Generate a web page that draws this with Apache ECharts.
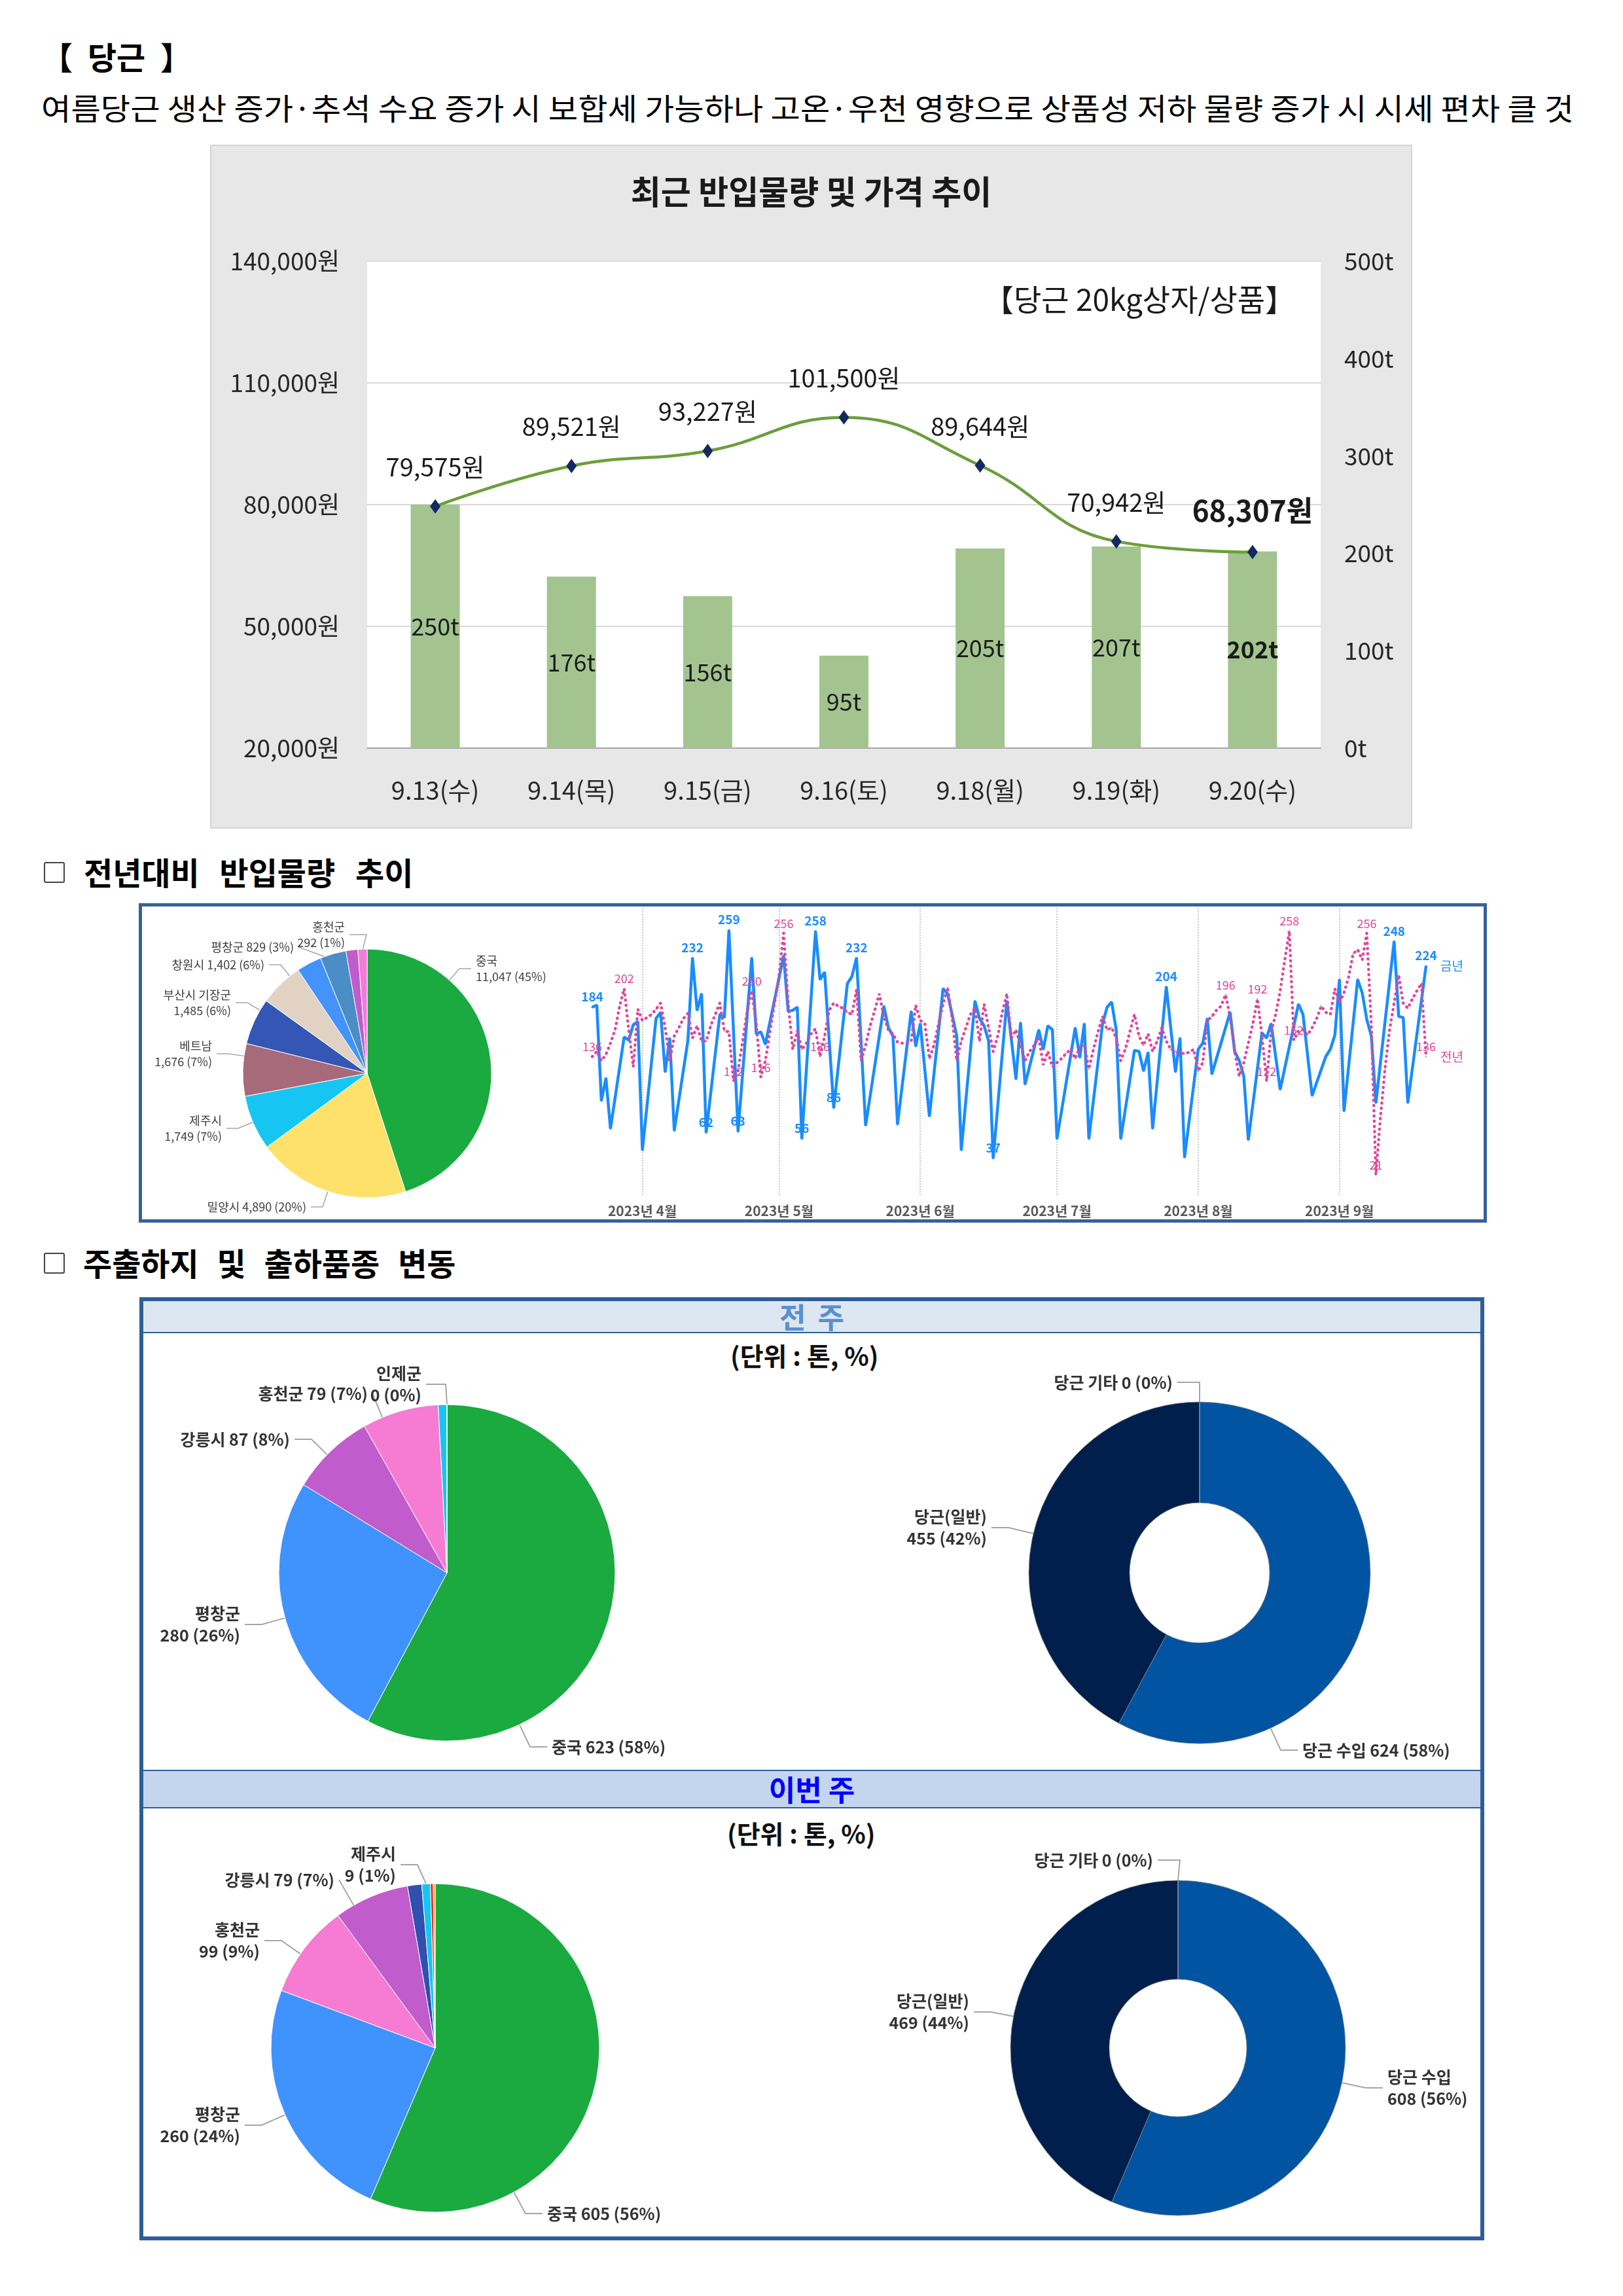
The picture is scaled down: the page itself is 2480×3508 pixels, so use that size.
<!DOCTYPE html>
<html><head><meta charset="utf-8">
<script src="https://cdn.jsdelivr.net/npm/echarts@6/dist/echarts.min.js"></script>
<style>
html,body{margin:0;padding:0;background:#fff;}
body{width:2480px;height:3508px;position:relative;overflow:hidden;font-family:"Noto Sans CJK KR","Noto Sans",sans-serif;color:#000;}
.abs{position:absolute;}
.hdr{font-size:48px;font-weight:bold;line-height:58px;white-space:pre;}
.chk{width:28px;height:28px;border:2px solid #444;border-radius:3px;}
.unit{font-size:39px;font-weight:bold;line-height:48px;white-space:pre;color:#111;}
</style></head><body>

<div class="abs" id="ttl" style="left:63px;top:54px;font-size:48px;font-weight:bold;line-height:62px;white-space:pre;word-spacing:12px">【 당근 】</div>
<div class="abs" id="sub" style="left:63px;top:133px;font-size:46px;line-height:60px;white-space:nowrap;transform-origin:0 50%">여름당근 생산 증가·추석 수요 증가 시 보합세 가능하나 고온·우천 영향으로 상품성 저하 물량 증가 시 시세 편차 클 것</div>

<div class="abs" style="left:321px;top:221px;width:1837px;height:1045px;box-sizing:border-box;border:2px solid #d4d4d4;background:#e7e7e7"></div>
<div class="abs" id="c1" style="left:323px;top:223px;width:1833px;height:1041px"></div>

<div class="abs chk" style="left:67px;top:1317px"></div>
<div class="abs hdr" style="left:128px;top:1302px;word-spacing:20px">전년대비 반입물량 추이</div>
<div class="abs" style="left:212px;top:1380px;width:2060px;height:488px;box-sizing:border-box;border:5px solid #35619b"></div>
<div class="abs" id="c2" style="left:217px;top:1385px;width:2050px;height:478px"></div>

<div class="abs chk" style="left:67px;top:1914px"></div>
<div class="abs hdr" style="left:127px;top:1899px;word-spacing:17px">주출하지 및 출하품종 변동</div>
<div class="abs" style="left:213px;top:1982px;width:2055px;height:1441px;box-sizing:border-box;border:6px solid #2e5e96"></div>
<div class="abs" style="left:219px;top:1988px;width:2043px;height:47px;background:#dde7f2;border-bottom:2px solid #2e5e96;text-align:center;font-size:44px;font-weight:bold;line-height:47px;color:#5a8fd2;white-space:pre;word-spacing:8px">전 주</div>
<div class="abs" style="left:219px;top:2704px;width:2043px;height:55px;background:#c3d6ed;border-top:2px solid #2e5e96;border-bottom:2px solid #2e5e96;text-align:center;font-size:44px;font-weight:bold;line-height:55px;color:#0000ff;white-space:pre">이번 주</div>
<div class="abs unit" style="left:1116px;top:2046px">(단위 : 톤, %)</div>
<div class="abs unit" style="left:1111px;top:2776px">(단위 : 톤, %)</div>
<div class="abs" id="c3" style="left:219px;top:2037px;width:2043px;height:667px"></div>
<div class="abs" id="c4" style="left:219px;top:2763px;width:2043px;height:654px"></div>

<script>
// ---------------- data ----------------
const mainDays = ['9.13(수)','9.14(목)','9.15(금)','9.16(토)','9.18(월)','9.19(화)','9.20(수)'];
const mainPrice = [79575, 89521, 93227, 101500, 89644, 70942, 68307];
const mainVolume = [250, 176, 156, 95, 205, 207, 202];

const originNames = ['중국','밀양시','제주시','베트남','부산시 기장군','창원시','(기타1)','평창군','(기타2)','홍천군'];
const originValues = [11047, 4890, 1749, 1676, 1485, 1402, 800, 829, 380, 292];

const thisYear = [
['2023-03-21',184],['2023-03-22',186],['2023-03-23',93],['2023-03-24',115],['2023-03-25',66],
['2023-03-28',155],['2023-03-29',152],['2023-03-30',167],['2023-03-31',170],['2023-04-01',45],
['2023-04-04',173],['2023-04-05',179],['2023-04-06',121],['2023-04-07',154],['2023-04-08',64],
['2023-04-11',152],['2023-04-12',232],['2023-04-13',181],['2023-04-14',197],['2023-04-15',62],
['2023-04-18',177],['2023-04-19',174],['2023-04-20',259],['2023-04-22',63],
['2023-04-25',232],['2023-04-26',158],['2023-04-27',160],['2023-04-28',148],
['2023-05-02',234],['2023-05-03',180],['2023-05-04',181],['2023-05-05',184],['2023-05-06',56],
['2023-05-09',258],['2023-05-10',211],['2023-05-11',218],['2023-05-13',86],
['2023-05-16',207],['2023-05-17',214],['2023-05-18',232],['2023-05-20',69],
['2023-05-24',185],['2023-05-25',164],['2023-05-26',156],['2023-05-27',70],
['2023-05-30',180],['2023-05-31',146],['2023-06-01',168],['2023-06-03',78],
['2023-06-06',202],['2023-06-07',197],['2023-06-09',156],['2023-06-10',45],
['2023-06-13',190],['2023-06-14',173],['2023-06-15',166],['2023-06-16',151],['2023-06-17',37],
['2023-06-20',190],['2023-06-22',114],['2023-06-23',169],['2023-06-24',109],
['2023-06-27',162],['2023-06-28',143],['2023-06-29',166],['2023-06-30',162],['2023-07-01',56],
['2023-07-05',164],['2023-07-06',135],['2023-07-07',168],['2023-07-08',56],
['2023-07-11',168],['2023-07-12',184],['2023-07-13',189],['2023-07-14',162],['2023-07-15',56],
['2023-07-18',142],['2023-07-19',141],['2023-07-20',122],['2023-07-21',140],['2023-07-22',66],
['2023-07-25',204],['2023-07-27',121],['2023-07-28',154],['2023-07-29',38],
['2023-08-01',143],['2023-08-02',149],['2023-08-03',173],['2023-08-04',119],
['2023-08-08',179],['2023-08-09',141],['2023-08-10',132],['2023-08-11',117],['2023-08-12',55],
['2023-08-15',159],['2023-08-16',154],['2023-08-17',168],['2023-08-19',104],
['2023-08-23',187],['2023-08-24',177],['2023-08-26',98],
['2023-08-29',136],['2023-08-30',143],['2023-08-31',157],['2023-09-01',211],['2023-09-02',83],
['2023-09-05',211],['2023-09-06',198],['2023-09-07',172],['2023-09-08',156],['2023-09-09',91],
['2023-09-13',248],['2023-09-14',175],['2023-09-15',174],['2023-09-16',91],['2023-09-20',224]
];
const thisYearLabeled = ['2023-03-21','2023-04-12','2023-04-15','2023-04-20','2023-04-22','2023-05-06','2023-05-09','2023-05-13','2023-05-18','2023-06-17','2023-07-25','2023-09-13','2023-09-20'];

const lastYear = [
['2023-03-21',136],['2023-03-22',141],['2023-03-23',132],['2023-03-24',138],['2023-03-25',149],['2023-03-26',162],['2023-03-27',185],['2023-03-28',202],['2023-03-29',162],['2023-03-30',126],['2023-03-31',182],
['2023-04-01',171],['2023-04-02',174],['2023-04-03',177],['2023-04-04',182],['2023-04-05',188],['2023-04-06',164],['2023-04-07',132],['2023-04-08',156],['2023-04-09',164],['2023-04-10',173],
['2023-04-11',178],['2023-04-12',154],['2023-04-13',166],['2023-04-14',151],['2023-04-15',151],['2023-04-16',166],['2023-04-17',177],['2023-04-18',188],['2023-04-19',161],['2023-04-20',160],
['2023-04-21',112],['2023-04-22',122],['2023-04-23',151],['2023-04-24',181],['2023-04-25',200],['2023-04-26',168],['2023-04-27',116],['2023-04-28',132],['2023-04-29',160],['2023-04-30',188],
['2023-05-01',215],['2023-05-02',256],['2023-05-03',188],['2023-05-04',143],['2023-05-05',161],['2023-05-06',143],['2023-05-07',149],['2023-05-08',158],['2023-05-09',163],['2023-05-10',136],
['2023-05-11',156],['2023-05-12',181],['2023-05-13',188],['2023-05-14',185],['2023-05-15',183],['2023-05-16',179],['2023-05-17',177],['2023-05-18',201],['2023-05-19',132],['2023-05-20',147],
['2023-05-21',166],['2023-05-22',181],['2023-05-23',197],['2023-05-24',175],['2023-05-25',162],['2023-05-26',158],['2023-05-27',150],['2023-05-28',149],['2023-05-29',149],['2023-05-30',151],['2023-05-31',186],
['2023-06-01',171],['2023-06-02',168],['2023-06-03',134],['2023-06-04',147],['2023-06-05',168],['2023-06-06',187],['2023-06-07',203],['2023-06-08',173],['2023-06-09',132],['2023-06-10',151],
['2023-06-11',164],['2023-06-12',177],['2023-06-13',183],['2023-06-14',151],['2023-06-15',187],['2023-06-16',164],['2023-06-17',141],['2023-06-18',156],['2023-06-19',179],['2023-06-20',197],
['2023-06-21',154],['2023-06-22',162],['2023-06-23',147],['2023-06-24',132],['2023-06-25',141],['2023-06-26',147],['2023-06-27',154],['2023-06-28',128],['2023-06-29',141],['2023-06-30',126],
['2023-07-01',130],['2023-07-02',134],['2023-07-03',139],['2023-07-04',143],['2023-07-05',134],['2023-07-06',145],['2023-07-07',147],['2023-07-08',124],['2023-07-09',143],['2023-07-10',160],
['2023-07-11',175],['2023-07-12',162],['2023-07-13',164],['2023-07-14',154],['2023-07-15',132],['2023-07-16',143],['2023-07-17',160],['2023-07-18',177],['2023-07-19',156],['2023-07-20',147],
['2023-07-21',158],['2023-07-22',141],['2023-07-23',151],['2023-07-24',164],['2023-07-25',151],['2023-07-26',143],['2023-07-27',141],['2023-07-28',139],['2023-07-29',139],['2023-07-30',140],['2023-07-31',143],
['2023-08-01',122],['2023-08-02',130],['2023-08-03',171],['2023-08-04',175],['2023-08-05',181],['2023-08-06',185],['2023-08-07',196],['2023-08-08',175],['2023-08-09',141],['2023-08-10',117],
['2023-08-11',130],['2023-08-12',149],['2023-08-13',168],['2023-08-14',192],['2023-08-15',156],['2023-08-16',112],['2023-08-17',160],['2023-08-18',177],['2023-08-19',200],['2023-08-20',230],
['2023-08-21',258],['2023-08-22',152],['2023-08-23',161],['2023-08-24',162],['2023-08-25',157],['2023-08-26',164],['2023-08-27',173],['2023-08-28',185],['2023-08-29',179],['2023-08-30',177],['2023-08-31',202],
['2023-09-01',188],['2023-09-02',198],['2023-09-03',213],['2023-09-04',236],['2023-09-05',240],['2023-09-06',230],['2023-09-07',256],['2023-09-08',166],['2023-09-09',21],['2023-09-10',77],
['2023-09-11',124],['2023-09-12',162],['2023-09-13',188],['2023-09-14',215],['2023-09-15',188],['2023-09-16',183],['2023-09-17',192],['2023-09-18',200],['2023-09-19',207],['2023-09-20',136]
];
const lastYearLabeled = ['2023-03-21','2023-03-28','2023-04-21','2023-04-25','2023-04-27','2023-05-02','2023-05-10','2023-08-07','2023-08-14','2023-08-16','2023-08-21','2023-08-22','2023-09-07','2023-09-09','2023-09-20'];

const prevPieNames = ['중국','평창군','강릉시','홍천군','제주시','인제군'];
const prevPieValues = [623, 280, 87, 79, 9, 0];
const prevDonutNames = ['당근 수입','당근(일반)','당근 기타'];
const prevDonutValues = [624, 455, 0];
const curPieNames = ['중국','평창군','홍천군','강릉시','(기타1)','제주시','(기타2)','(기타3)'];
const curPieValues = [605, 260, 99, 79, 15, 9, 3, 2];
const curDonutNames = ['당근 수입','당근(일반)','당근 기타'];
const curDonutValues = [608, 469, 0];

// ---------------- helpers ----------------
const FONT = '"Noto Sans CJK KR","Noto Sans",sans-serif';
const fmtNum = v => Number(v).toLocaleString('en-US');

function pieItems(names, values, colors, hidden) {
  return names.map((n, i) => {
    const it = { name: n, value: values[i], itemStyle: { color: colors[i] } };
    if (hidden.includes(n)) { it.label = { show: false }; it.labelLine = { show: false }; }
    return it;
  });
}
function pieFormatter(twoLine) {
  return p => p.name + (twoLine.includes(p.name) ? '\n' : ' ') + fmtNum(p.value) + ' (' + Math.round(p.percent) + '%)';
}
// label placement (layout only): [x, y, align, elbow] keyed by slice name; leader drawn to the slice edge
function leaderLayout(center, r, names, values, pos, defElbow) {
  const total = values.reduce((a, b) => a + b, 0);
  const bounds = []; let acc = 0;
  values.forEach(v => { const s = acc / total * 360; acc += v; bounds.push([s, acc / total * 360]); });
  const dist = (a, b) => { let t = Math.abs(a - b) % 360; return t > 180 ? 360 - t : t; };
  return function (params) {
    const p = pos[names[params.dataIndex]];
    if (!p) return {};
    const [x, y, align, elb] = p;
    const elbow = elb == null ? defElbow : elb;
    const right = align === 'right';
    const ex = right ? x + 7 : x - 7;
    const bx = right ? ex + elbow : ex - elbow;
    let phi = Math.atan2(bx - center[0], -(y - center[1])) * 180 / Math.PI;
    if (phi < 0) phi += 360;
    const [s, e] = bounds[params.dataIndex];
    const d = Math.min(2, (e - s) / 2);
    const lo = s + d, hi = e - d;
    if (!(phi >= lo && phi <= hi)) phi = dist(phi, lo) < dist(phi, hi) ? lo : hi;
    const rad = phi * Math.PI / 180;
    const p0 = [center[0] + r * Math.sin(rad), center[1] - r * Math.cos(rad)];
    return { x: x, y: y, align: align, verticalAlign: 'middle', labelLinePoints: [p0, [bx, y], [ex, y]] };
  };
}

// ---------------- chart 1 ----------------
const c1 = echarts.init(document.getElementById('c1'));
c1.setOption({
  animation: false,
  textStyle: { fontFamily: FONT },
  graphic: [
    { type: 'text', left: 'center', top: 45, style: { text: '최근 반입물량 및 가격 추이', font: 'bold 50px ' + FONT, fill: '#1a1a1a', letterSpacing: 5 } },
    { type: 'text', left: 1180, top: 212, style: { text: '【당근 20kg상자/상품】', font: '46px ' + FONT, fill: '#1a1a1a' } }
  ],
  grid: { left: 238, right: 138, top: 176, bottom: 121, show: true, backgroundColor: '#ffffff', borderWidth: 0 },
  xAxis: {
    type: 'category', data: mainDays,
    axisLine: { lineStyle: { color: '#a6a6a6', width: 2 } }, axisTick: { show: false },
    axisLabel: { fontSize: 38, color: '#262626', margin: 46, interval: 0 }
  },
  yAxis: [
    { type: 'value', min: 20000, max: 140000, interval: 30000,
      axisLine: { show: false }, axisTick: { show: false },
      axisLabel: { fontSize: 37, color: '#262626', margin: 42, formatter: v => fmtNum(v) + '원' },
      splitLine: { lineStyle: { color: '#d9d9d9', width: 2 } } },
    { type: 'value', min: 0, max: 500, interval: 100, position: 'right',
      axisLine: { show: false }, axisTick: { show: false }, splitLine: { show: false },
      axisLabel: { fontSize: 37, color: '#262626', margin: 36, formatter: '{value}t' } }
  ],
  series: [
    { type: 'bar', yAxisIndex: 1, barWidth: 75,
      data: mainVolume.map((v, i) => i === mainVolume.length - 1 ? { value: v, label: { fontWeight: 'bold' } } : v),
      itemStyle: { color: '#a3c48f' },
      label: { show: true, position: 'inside', formatter: '{c}t', fontSize: 36, color: '#1a1a1a' } },
    { type: 'line', yAxisIndex: 0, smooth: 0.45,
      data: mainPrice.map((v, i) => i === mainPrice.length - 1 ? { value: v, label: { fontWeight: 'bold', fontSize: 44 } } : v),
      symbol: 'diamond', symbolSize: [16, 22],
      itemStyle: { color: '#13295f' },
      lineStyle: { color: '#6b9e3b', width: 4.5 },
      label: { show: true, position: 'top', distance: 30, fontSize: 38, color: '#1a1a1a', formatter: p => fmtNum(p.value) + '원' } }
  ]
});

// ---------------- chart 2 ----------------
const lineItems = (pts, labeled) => pts.map(([d, v]) => labeled.includes(d) ? { value: [d, v], label: { show: true } } : [d, v]);
const c2Center = [344, 255];
const c2 = echarts.init(document.getElementById('c2'));
c2.setOption({
  animation: false,
  textStyle: { fontFamily: FONT },
  grid: { left: 688, top: 3, width: 1274, height: 440 },
  xAxis: {
    type: 'time', min: '2023-03-21', max: '2023-09-20', splitNumber: 6,
    axisLine: { show: false }, axisTick: { show: false },
    splitLine: { show: true, showMinLine: false, showMaxLine: false, lineStyle: { type: 'dotted', color: '#c8c8c8', width: 2 } },
    axisLabel: { fontSize: 21, fontWeight: 'bold', color: '#595959', margin: 12, showMinLabel: false, showMaxLabel: false,
      formatter: v => { const d = new Date(v); return d.getFullYear() + '년 ' + (d.getMonth() + 1) + '월'; } }
  },
  yAxis: { type: 'value', min: 0, max: 280, show: false, splitLine: { show: false } },
  series: [
    { type: 'pie', center: c2Center, radius: 190, startAngle: 90, clockwise: true,
      data: pieItems(originNames, originValues,
        ['#1aaa3f','#fde16a','#17c5f3','#a76a7a','#3456b5','#e1d2c3','#4393fb','#4b8dc6','#c05ccb','#f57bd8'],
        ['(기타1)','(기타2)']),
      itemStyle: { borderColor: '#ffffff', borderWidth: 1 },
      label: { show: true, position: 'outside', fontSize: 18, lineHeight: 24, color: '#404040', bleedMargin: -600,
        formatter: pieFormatter(['중국','제주시','베트남','부산시 기장군','홍천군']) },
      labelLine: { show: true, length: 14, length2: 22, lineStyle: { color: '#a6a6a6', width: 1.5 } },
      labelLayout: leaderLayout(c2Center, 190, originNames, originValues, {
        '중국': [510, 95, 'left'], '밀양시': [251, 459, 'right'], '제주시': [122, 339, 'right'],
        '베트남': [107, 225, 'right'], '부산시 기장군': [136, 147, 'right'], '창원시': [187, 89, 'right'],
        '평창군': [232, 62, 'right', 0], '홍천군': [310, 43, 'right', 26]
      }, 18) },
    { type: 'line', name: '금년', data: lineItems(thisYear, thisYearLabeled),
      symbol: 'circle', symbolSize: 3, showAllSymbol: true,
      itemStyle: { color: '#1a8cff' }, lineStyle: { color: '#1a8cff', width: 4.5 },
      label: { show: false, position: 'top', distance: 5, fontSize: 19, fontWeight: 'bold', color: '#1a8cff', formatter: p => p.value[1] },
      endLabel: { show: true, formatter: '{a}', fontSize: 19, color: '#1a8cff', distance: 22 } },
    { type: 'line', name: '전년', data: lineItems(lastYear, lastYearLabeled),
      symbol: 'circle', symbolSize: 2, showAllSymbol: true,
      itemStyle: { color: '#e2449a' }, lineStyle: { color: '#e2449a', width: 4.5, type: [0.5, 7.5], cap: 'round' },
      label: { show: false, position: 'top', distance: 5, fontSize: 18, color: '#e2449a', formatter: p => p.value[1] },
      endLabel: { show: true, formatter: '{a}', fontSize: 19, color: '#e2449a', distance: 22 } }
  ]
});

// ---------------- charts 3 & 4 ----------------
const bigLabel = { show: true, position: 'outside', fontSize: 25, fontWeight: 'bold', lineHeight: 33, color: '#333333', bleedMargin: -600 };
const bigLine = { show: true, length: 18, length2: 28, lineStyle: { color: '#a6a6a6', width: 2 } };
const donutColors = ['#0054a2', '#001f4d', '#888888'];

const c3PieC = [464, 366], c3DonC = [1614, 366];
const c3 = echarts.init(document.getElementById('c3'));
c3.setOption({
  animation: false,
  textStyle: { fontFamily: FONT },
  series: [
    { type: 'pie', center: c3PieC, radius: 257, startAngle: 90,
      data: pieItems(prevPieNames, prevPieValues, ['#1aaa3f','#4092fd','#c05ccb','#f57bd3','#17c5f3','#555555'], ['제주시']),
      itemStyle: { borderColor: '#ffffff', borderWidth: 1 },
      label: Object.assign({}, bigLabel, { formatter: pieFormatter(['평창군','인제군']) }), labelLine: bigLine,
      labelLayout: leaderLayout(c3PieC, 257, prevPieNames, prevPieValues, {
        '중국': [624, 632, 'left'], '평창군': [148, 445, 'right'], '강릉시': [224, 162, 'right'],
        '홍천군': [343, 92, 'right', 0], '인제군': [425, 78, 'right', 30]
      }, 26) },
    { type: 'pie', center: c3DonC, radius: [107, 261], startAngle: 90,
      data: pieItems(prevDonutNames, prevDonutValues, donutColors, []),
      itemStyle: { borderColor: 'rgba(140,140,140,0.8)', borderWidth: 1 },
      label: Object.assign({}, bigLabel, { formatter: pieFormatter(['당근(일반)']) }), labelLine: bigLine,
      labelLayout: leaderLayout(c3DonC, 261, prevDonutNames, prevDonutValues, {
        '당근 수입': [1771, 637, 'left'], '당근(일반)': [1289, 297, 'right'], '당근 기타': [1573, 75, 'right', 34]
      }, 26) }
  ]
});

const c4PieC = [446, 366], c4DonC = [1581, 366];
const c4 = echarts.init(document.getElementById('c4'));
c4.setOption({
  animation: false,
  textStyle: { fontFamily: FONT },
  series: [
    { type: 'pie', center: c4PieC, radius: 251, startAngle: 90,
      data: pieItems(curPieNames, curPieValues, ['#1aaa3f','#4092fd','#f57bd3','#c05ccb','#3050b0','#17c5f3','#e82a2a','#f0a830'], ['(기타1)','(기타2)','(기타3)']),
      itemStyle: { borderColor: '#ffffff', borderWidth: 1 },
      label: Object.assign({}, bigLabel, { formatter: pieFormatter(['평창군','홍천군','제주시']) }), labelLine: bigLine,
      labelLayout: leaderLayout(c4PieC, 251, curPieNames, curPieValues, {
        '중국': [617, 619, 'left'], '평창군': [148, 484, 'right'], '홍천군': [178, 202, 'right'],
        '강릉시': [292, 109, 'right', 0], '제주시': [386, 86, 'right', 26]
      }, 26) },
    { type: 'pie', center: c4DonC, radius: [105, 256], startAngle: 90,
      data: pieItems(curDonutNames, curDonutValues, donutColors, []),
      itemStyle: { borderColor: 'rgba(140,140,140,0.8)', borderWidth: 1 },
      label: Object.assign({}, bigLabel, { formatter: pieFormatter(['당근(일반)','당근 수입']) }), labelLine: bigLine,
      labelLayout: leaderLayout(c4DonC, 256, curDonutNames, curDonutValues, {
        '당근 수입': [1901, 427, 'left'], '당근(일반)': [1262, 311, 'right'], '당근 기타': [1543, 79, 'right', 34]
      }, 26) }
  ]
});

// fit the subtitle line to the reference width
function fitText() {
  const el = document.getElementById('sub');
  el.style.transform = 'none';
  const w = el.getBoundingClientRect().width;
  if (w > 0) el.style.transform = 'scaleX(' + (2342 / w) + ')';
}
fitText();
if (document.fonts && document.fonts.ready) document.fonts.ready.then(fitText);
</script>
</body></html>
